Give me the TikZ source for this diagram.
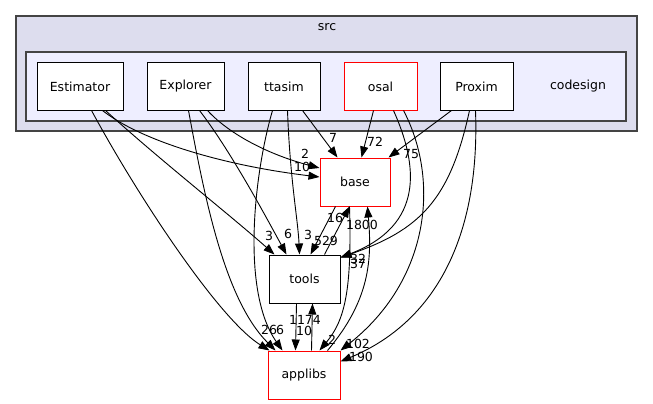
\documentclass[tikz,border=0pt]{standalone}
\usepackage{fontspec}
\setmainfont{DejaVu Sans}
\usetikzlibrary{arrows.meta,calc}
\definecolor{srcfill}{HTML}{DDDDEE}
\definecolor{cdfill}{HTML}{EEEEFF}
\definecolor{framecol}{HTML}{444444}
\begin{document}
\begin{tikzpicture}[x=1pt,y=-1pt,
  font=\fontsize{12.5}{14}\selectfont,
  dirnode/.style={draw=black, fill=white, line width=1pt, minimum height=47pt, inner sep=0pt},
  rednode/.style={dirnode, draw=red},
  dep/.style={-{Triangle[length=11pt,width=8pt]}, line width=0.9pt},
  lbl/.style={inner sep=0pt}]
\useasboundingbox (0,0) rectangle (653,404);
% clusters
\path[fill=srcfill, draw=framecol, line width=1.3pt] (16,16) rectangle (637,131);
\node[lbl] (srclbl) at (327,27) {src};
\path[fill=cdfill, draw=framecol, line width=1.3pt] (26,52) rectangle (626,121);
\node[lbl] (cdlbl) at (578,86.5) {codesign};
% nodes
\node[dirnode, minimum width=86pt] (est) at (80,86.5) {Estimator};
\node[dirnode, minimum width=77pt] (exp) at (185.5,86.5) {Explorer};
\node[dirnode, minimum width=72pt] (tta) at (284,86.5) {ttasim};
\node[rednode, minimum width=73pt] (osal) at (380.5,86.5) {osal};
\node[dirnode, minimum width=73pt] (prox) at (476.5,86.5) {Proxim};
\node[rednode, minimum width=70pt, minimum height=48pt] (base) at (355,182) {base};
\node[dirnode, minimum width=71pt, minimum height=48pt] (tools) at (304.5,279) {tools};
\node[rednode, minimum width=72pt, minimum height=48pt] (app) at (304,375) {applibs};
% Estimator
\draw[dep] ([xshift=55pt]est.south west) .. controls (140,200) and (220,320) .. ([xshift=2pt]app.north west);
\draw[dep] ([xshift=66pt]est.south west) .. controls (140,140) and (220,165) .. ([yshift=5pt]base.west);
\draw[dep] ([xshift=69pt]est.south west) .. controls (160,160) and (230,215) .. ([xshift=6pt]tools.north west);
% Explorer
\draw[dep] ([xshift=42pt]exp.south west) .. controls (205,200) and (225,300) .. ([xshift=8pt]app.north west);
\draw[dep] ([xshift=53pt]exp.south west) .. controls (230,150) and (265,215) .. ([xshift=18pt]tools.north west);
\draw[dep] ([xshift=61pt]exp.south west) .. controls (230,135) and (270,155) .. ([yshift=14pt]base.west);
% ttasim
\draw[dep] ([xshift=25pt]tta.south west) .. controls (255,170) and (240,290) .. ([xshift=15pt]app.north west);
\draw[dep] ([xshift=40pt]tta.south west) .. controls (290,180) and (298,220) .. ([xshift=31pt]tools.north west);
\draw[dep] ([xshift=55pt]tta.south west) -- ([xshift=18pt]base.north west);
% osal
\draw[dep] ([xshift=30pt]osal.south west) -- ([xshift=42pt]base.north west);
\draw[dep] ([xshift=50pt]osal.south west) .. controls (418,165) and (425,225) .. ([yshift=-3pt]tools.north east);
\draw[dep] ([xshift=60pt]osal.south west) .. controls (440,180) and (430,280) .. (app.north east);
% Proxim
\draw[dep] ([xshift=12pt]prox.south west) -- ([xshift=-2pt]base.north east);
\draw[dep] ([xshift=30pt]prox.south west) .. controls (450,200) and (420,230) .. ([yshift=-3pt]tools.north east);
\draw[dep] ([xshift=36pt]prox.south west) .. controls (480,230) and (440,320) .. ([yshift=-11pt]app.north east);
% base / tools / applibs
\draw[dep] ([xshift=16pt]base.south west) -- ([xshift=42pt]tools.north west);
\draw[dep] ([xshift=56pt]tools.north west) -- ([xshift=30pt]base.south west);
\draw[dep] ([xshift=30pt]base.south west) .. controls (352,290) and (345,320) .. ([xshift=52pt]app.north west);
\draw[dep] ([xshift=60pt]app.north west) .. controls (370,300) and (372,260) .. ([xshift=48pt]base.south west);
\draw[dep] ([xshift=28pt]tools.south west) -- ([xshift=28pt]app.north west);
\draw[dep] ([xshift=44pt]app.north west) -- ([xshift=44pt]tools.south west);
% labels
\node[lbl] (l1) at (302,167) {10};
\node[lbl] (l2) at (305,154) {2};
\node[lbl] (l3) at (333,138) {7};
\node[lbl] (l4) at (375,142) {72};
\node[lbl] (l5) at (411,154) {75};
\node[lbl] (l6) at (269,236) {3};
\node[lbl] (l7) at (288,234) {6};
\node[lbl] (l8) at (308,235) {3};
\node[lbl] (l9) at (326,241) {529};
\node[lbl] (l10) at (335,218) {16};
\node[lbl] (l11) at (362,225) {1800};
\node[lbl] (l12) at (358,259) {32};
\node[lbl] (l13) at (358,264) {37};
\node[lbl] (l14) at (265,330) {2};
\node[lbl] (l15) at (273,330) {6};
\node[lbl] (l16) at (280,330) {6};
\node[lbl] (l17) at (305,320) {1174};
\node[lbl] (l18) at (304,331) {10};
\node[lbl] (l19) at (332,340) {2};
\node[lbl] (l20) at (358,344) {102};
\node[lbl] (l21) at (361,357) {190};
\end{tikzpicture}
\end{document}
